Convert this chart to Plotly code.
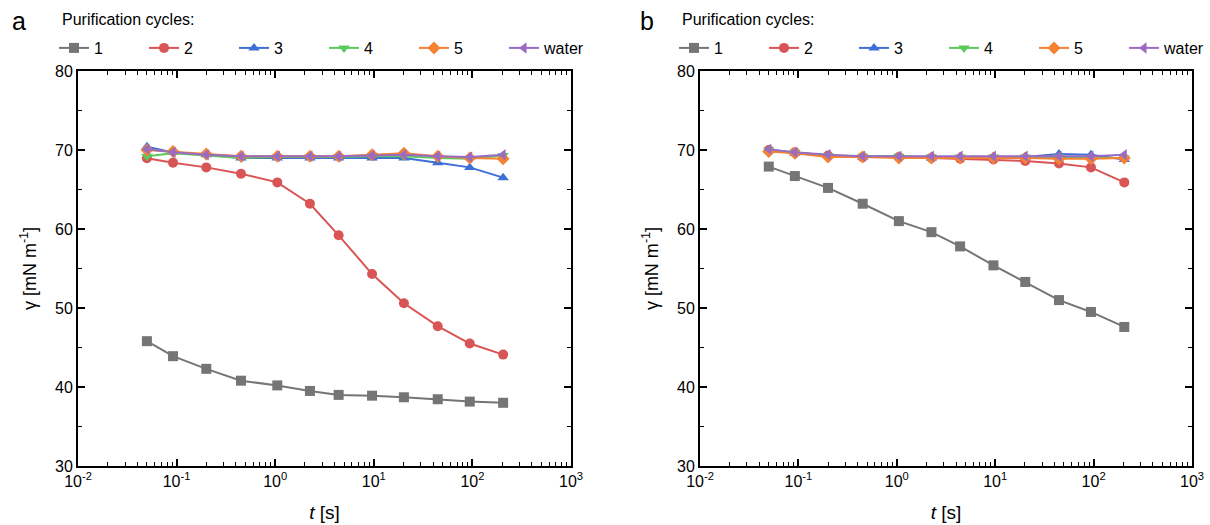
import plotly.graph_objects as go

t = [0.05, 0.092, 0.2, 0.45, 1.05, 2.25, 4.4, 9.6, 20.2, 44.5, 94, 205]

names = ["1", "2", "3", "4", "5", "water"]
colors = ["#757575", "#D95555", "#3D6FD6", "#5BC95B", "#F58233", "#9A6BC3"]
symbols = ["square", "circle", "triangle-up", "triangle-down", "diamond", "triangle-left"]

x_tickvals = [0.01, 0.1, 1, 10, 100, 1000]
x_ticktext = ["10<sup>-2</sup>", "10<sup>-1</sup>", "10<sup>0</sup>", "10<sup>1</sup>", "10<sup>2</sup>", "10<sup>3</sup>"]
x_minorvals = [m * d for d in [0.01, 0.1, 1, 10, 100] for m in range(2, 10)]

# panel a
a_1 = [45.8, 43.9, 42.3, 40.8, 40.2, 39.5, 39.0, 38.9, 38.7, 38.45, 38.15, 38.0]
a_2 = [68.95, 68.4, 67.8, 67.0, 65.9, 63.2, 59.2, 54.3, 50.6, 47.7, 45.5, 44.1]
a_3 = [70.4, 69.7, 69.4, 69.0, 69.0, 69.0, 69.0, 69.0, 69.0, 68.4, 67.8, 66.5]
a_4 = [69.2, 69.6, 69.3, 69.0, 69.1, 69.1, 69.1, 69.2, 69.2, 69.0, 68.9, 69.3]
a_5 = [70.0, 69.8, 69.5, 69.2, 69.2, 69.2, 69.2, 69.4, 69.6, 69.2, 69.0, 68.9]
a_w = [70.1, 69.7, 69.4, 69.2, 69.2, 69.2, 69.2, 69.3, 69.4, 69.2, 69.1, 69.4]

# panel b
b_1 = [67.9, 66.7, 65.2, 63.2, 61.0, 59.6, 57.8, 55.4, 53.3, 51.0, 49.5, 47.6]
b_2 = [70.0, 69.7, 69.3, 69.1, 69.1, 69.0, 68.9, 68.8, 68.6, 68.3, 67.8, 65.9]
b_3 = [70.0, 69.6, 69.3, 69.1, 69.2, 69.0, 69.1, 69.1, 69.1, 69.5, 69.4, 68.8]
b_4 = [70.0, 69.7, 69.3, 69.2, 69.2, 69.1, 69.1, 69.1, 69.1, 69.1, 69.0, 69.0]
b_5 = [69.8, 69.6, 69.1, 69.1, 69.0, 69.0, 69.0, 69.0, 69.0, 68.9, 68.9, 69.0]
b_w = [70.1, 69.7, 69.4, 69.2, 69.2, 69.2, 69.2, 69.2, 69.2, 69.2, 69.2, 69.4]

panel_a = [a_1, a_2, a_3, a_4, a_5, a_w]
panel_b = [b_1, b_2, b_3, b_4, b_5, b_w]

FONT = "Liberation Sans, Arial, sans-serif"
fig = go.Figure()

for panel, xa, ya, leg in [(panel_a, "x", "y", "legend"), (panel_b, "x2", "y2", "legend2")]:
    for name, vals, c, s in zip(names, panel, colors, symbols):
        fig.add_trace(go.Scatter(
            x=t, y=vals, name=name, mode="lines+markers",
            line=dict(color=c, width=2),
            marker=dict(symbol=s, size=10, color=c, line=dict(width=0)),
            xaxis=xa, yaxis=ya, legend=leg, showlegend=True,
        ))

W, H = 1210, 525
xdom_a = [78 / W, 571 / W]
xdom_b = [700 / W, 1192 / W]
ydom = [1 - 466 / H, 1 - 71 / H]

xcommon = dict(
    type="log", range=[-2, 3], tickmode="array", tickvals=x_tickvals, ticktext=x_ticktext,
    ticks="inside", ticklen=7, tickwidth=1.5, tickcolor="black",
    minor=dict(ticks="inside", ticklen=4, tickwidth=1.2, tickcolor="black",
               tickmode="array", tickvals=x_minorvals, showgrid=False),
    showline=True, linecolor="black", linewidth=2, mirror="ticks",
    showgrid=False, zeroline=False,
    tickfont=dict(size=16, color="black", family=FONT),
    title=dict(text="<i>t</i> [s]", font=dict(size=19, color="black", family=FONT), standoff=16),
)
ycommon = dict(
    range=[30, 80], tickmode="array", tickvals=[30, 40, 50, 60, 70, 80],
    ticks="inside", ticklen=7, tickwidth=1.5, tickcolor="black",
    minor=dict(ticks="inside", ticklen=4, tickwidth=1.2, tickcolor="black",
               tickmode="array", tickvals=[35, 45, 55, 65, 75], showgrid=False),
    showline=True, linecolor="black", linewidth=2, mirror="ticks",
    showgrid=False, zeroline=False,
    tickfont=dict(size=16, color="black", family=FONT),
    title=dict(text="γ [mN m<sup>-1</sup>]", font=dict(size=18, color="black", family=FONT), standoff=14),
)

legcommon = dict(
    orientation="h", xanchor="left", yanchor="top",
    font=dict(size=16, color="black", family=FONT),
    bgcolor="rgba(0,0,0,0)", entrywidth=45, entrywidthmode="pixels",
    itemclick=False, itemdoubleclick=False, tracegroupgap=0,
)

fig.update_layout(
    width=W, height=H,
    margin=dict(l=0, r=0, t=0, b=0, autoexpand=False),
    paper_bgcolor="white", plot_bgcolor="white",
    font=dict(family=FONT, color="black"),
    xaxis=dict(domain=xdom_a, anchor="y", **xcommon),
    yaxis=dict(domain=ydom, anchor="x", **ycommon),
    xaxis2=dict(domain=xdom_b, anchor="y2", **xcommon),
    yaxis2=dict(domain=ydom, anchor="x2", **ycommon),
    legend=dict(x=54 / W, y=1 - 31 / H, **legcommon),
    legend2=dict(x=674 / W, y=1 - 31 / H, **legcommon),
    annotations=[
        dict(text="a", x=10 / W, y=1 - 21 / H, xref="paper", yref="paper", xanchor="left", yanchor="middle",
             showarrow=False, font=dict(size=25, color="black", family=FONT)),
        dict(text="b", x=638 / W, y=1 - 21 / H, xref="paper", yref="paper", xanchor="left", yanchor="middle",
             showarrow=False, font=dict(size=25, color="black", family=FONT)),
        dict(text="Purification cycles:", x=60 / W, y=1 - 20 / H, xref="paper", yref="paper",
             xanchor="left", yanchor="middle", showarrow=False,
             font=dict(size=16, color="black", family=FONT)),
        dict(text="Purification cycles:", x=680 / W, y=1 - 20 / H, xref="paper", yref="paper",
             xanchor="left", yanchor="middle", showarrow=False,
             font=dict(size=16, color="black", family=FONT)),
    ],
)

fig.write_html("out.html")
